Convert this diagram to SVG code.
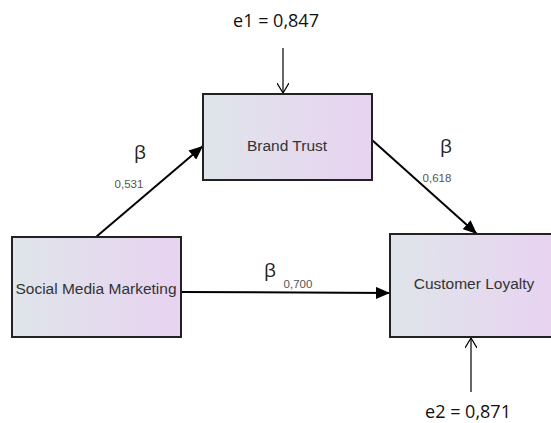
<svg xmlns="http://www.w3.org/2000/svg" width="551" height="423" viewBox="0 0 551 423">
<defs>
<linearGradient id="g" x1="0" y1="0" x2="1" y2="0">
<stop offset="0" stop-color="#dfe5ea"/>
<stop offset="1" stop-color="#e8d3f1"/>
</linearGradient>
<marker id="ah" viewBox="0 0 14 12" refX="14" refY="6" markerWidth="14" markerHeight="12" markerUnits="userSpaceOnUse" orient="auto">
<path d="M0,0 L14,6 L0,12 z" fill="#000"/>
</marker>
<marker id="oa" viewBox="0 0 10 12" refX="10" refY="6" markerWidth="10" markerHeight="12" markerUnits="userSpaceOnUse" orient="auto">
<path d="M0,0 L10,6 L0,12" fill="none" stroke="#000" stroke-width="1.2"/>
</marker>
</defs>
<style>
.box{fill:url(#g);stroke:#222;stroke-width:2}
.lbl{font-family:"Liberation Sans",Arial,sans-serif;font-size:15.5px;fill:#333;text-anchor:middle}
.b{font-family:"Open Sans","Liberation Sans",sans-serif;font-size:19px;fill:#222;text-anchor:middle}
.v{font-family:"Liberation Sans",Arial,sans-serif;font-size:11.5px;fill:#555;text-anchor:middle}
.e{font-family:"Open Sans","Liberation Sans",sans-serif;font-size:18px;fill:#111;text-anchor:middle}
.c{stroke:#000;stroke-width:2;fill:none}
.ce{stroke:#000;stroke-width:1.2;fill:none}
</style>
<rect width="551" height="423" fill="#fff"/>
<g id="connectors">
<line class="c" x1="96" y1="237" x2="203" y2="146" marker-end="url(#ah)"/>
<line class="c" x1="372" y1="140" x2="477" y2="234" marker-end="url(#ah)"/>
<line class="c" x1="181" y1="292" x2="390" y2="293" marker-end="url(#ah)"/>
<line class="ce" x1="283" y1="48" x2="283" y2="93" marker-end="url(#oa)"/>
<line class="ce" x1="471" y1="392" x2="471" y2="338" marker-end="url(#oa)"/>
</g>
<g id="brand-trust">
<rect class="box" x="203" y="94" width="169" height="86"/>
<text class="lbl" x="287" y="151">Brand Trust</text>
</g>
<g id="social-media-marketing">
<rect class="box" x="12" y="237" width="169" height="100"/>
<text class="lbl" x="96" y="294">Social Media Marketing</text>
</g>
<g id="customer-loyalty">
<rect class="box" x="390" y="234" width="163" height="103"/>
<text class="lbl" x="474" y="289">Customer Loyalty</text>
</g>
<g id="labels">
<text class="e" x="276" y="27">e1 = 0,847</text>
<text class="e" x="468" y="418">e2 = 0,871</text>
<text class="b" x="140" y="159">β</text>
<text class="v" x="129" y="188">0,531</text>
<text class="b" x="446" y="153">β</text>
<text class="v" x="437" y="182">0,618</text>
<text class="b" x="270" y="277">β</text>
<text class="v" x="298" y="288">0,700</text>
</g>
</svg>
